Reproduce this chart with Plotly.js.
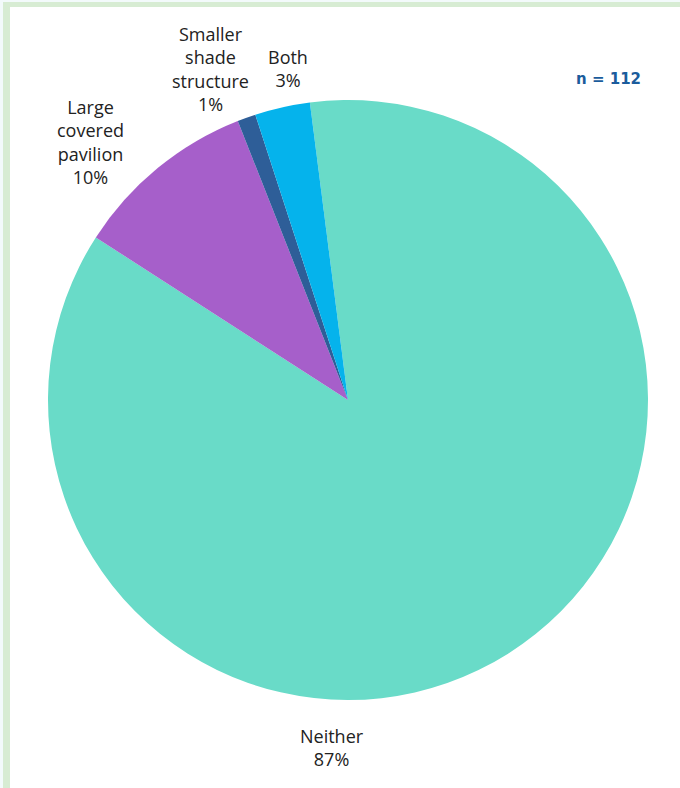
<!DOCTYPE html>
<html>
<head>
<meta charset="utf-8">
<script src="https://cdn.plot.ly/plotly-3.0.1.min.js"></script>
<style>
  html, body { margin: 0; padding: 0; width: 680px; height: 788px; overflow: hidden; background: #f3fafb; }
  #frame { position: absolute; left: 3px; top: 2px; width: 700px; height: 800px; background: #ffffff;
           border-left: 7px solid #d7ecd3; border-top: 5px solid #d7ecd3; }
  #chart { position: absolute; left: 0; top: 0; width: 680px; height: 788px; }
</style>
</head>
<body>
<div id="frame"></div>
<div id="chart"></div>
<script>
// Data (percent of respondents, n = 112)
const categories = ["Neither", "Large covered pavilion", "Smaller shade structure", "Both"];
const percents = [87, 10, 1, 3];
const sliceColors = ["#69dbc8", "#a65fca", "#2e5e98", "#05b3ec"];
const sampleLabel = "n = 112";

// Label placement (pixel centres of the outside labels)
const labelPos = [[332, 747], [90, 142], [210, 69], [288, 68]];

const W = 680, H = 788;
const annotations = categories.map((c, i) => ({
  text: c.replace(/ /g, "<br>") + "<br>" + percents[i] + "%",
  x: labelPos[i][0] / W, y: 1 - labelPos[i][1] / H,
  xref: "paper", yref: "paper", xanchor: "center", yanchor: "middle",
  showarrow: false, align: "center",
  font: { family: "'Open Sans', Lato, sans-serif", size: 18, color: "#222222" }
}));
annotations.push({
  text: "<b>" + sampleLabel + "</b>",
  x: 608 / W, y: 1 - 79 / H, xref: "paper", yref: "paper",
  xanchor: "center", yanchor: "middle", showarrow: false,
  font: { family: "'DejaVu Sans', 'Open Sans', sans-serif", size: 15, color: "#1b5c9c" }
});

const trace = {
  type: "pie",
  labels: categories,
  values: percents,
  sort: false,
  direction: "clockwise",
  rotation: -7.3,
  marker: { colors: sliceColors, line: { width: 0 } },
  textinfo: "none",
  hoverinfo: "label+value",
  showlegend: false,
  domain: { x: [48 / W, 648 / W], y: [1 - 700 / H, 1 - 100 / H] }
};

const layout = {
  width: W, height: H,
  margin: { l: 0, r: 0, t: 0, b: 0 },
  paper_bgcolor: "rgba(0,0,0,0)",
  plot_bgcolor: "rgba(0,0,0,0)",
  showlegend: false,
  annotations: annotations
};

Plotly.newPlot("chart", [trace], layout, { displayModeBar: false, staticPlot: true });
</script>
</body>
</html>
